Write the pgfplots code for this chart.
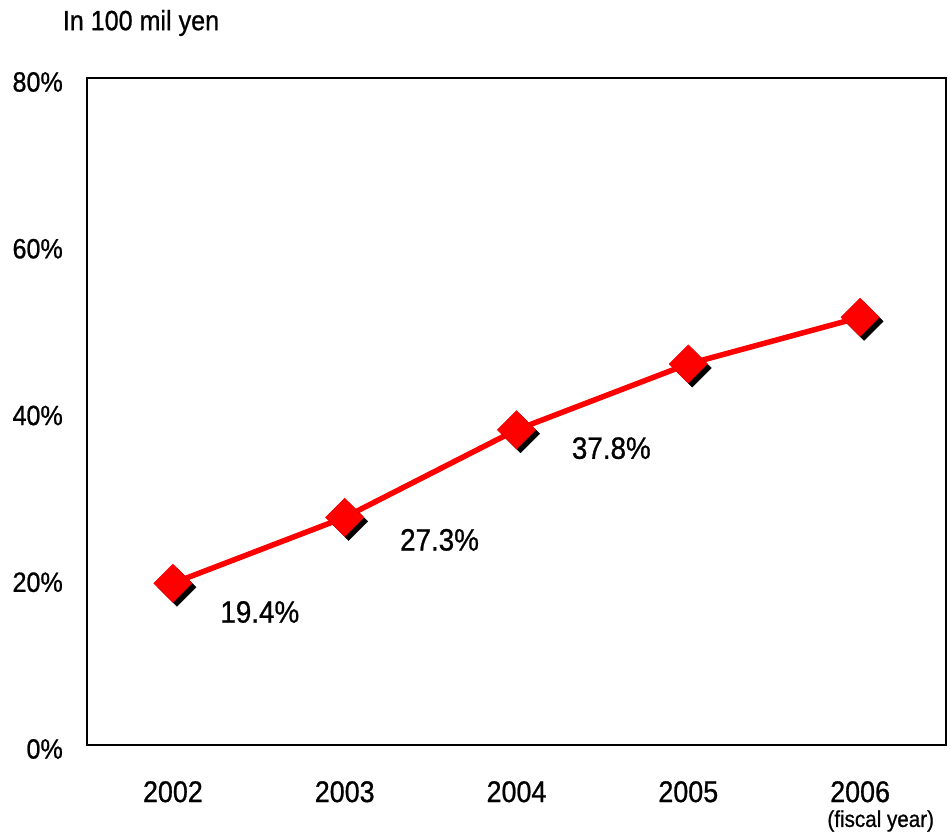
\documentclass[border=0pt]{standalone}
\usepackage{pgfplots}
\pgfplotsset{compat=1.18}
\usepackage{fontspec}
\setmainfont{Liberation Sans}[FakeStretch=0.9, FakeBold=0.8]
\begin{document}
\begin{tikzpicture}
\begin{axis}[
  width=859bp, height=667bp, scale only axis,
  xmin=-0.5, xmax=4.5, ymin=0, ymax=80,
  clip=false,
  axis line style={line width=1.6bp, black},
  xtick={0,1,2,3,4},
  xticklabels={2002,2003,2004,2005,2006},
  extra x ticks={0.5,1.5,2.5,3.5},
  extra x tick labels={},
  extra x tick style={major tick length=10bp, tick style={line width=1bp, black}, tick align=inside},
  ytick={0,20,40,60,80},
  yticklabels={0\%,20\%,40\%,60\%,80\%},
  major tick length=0pt,
  tick style={draw=none},
  xticklabel style={anchor=north, inner sep=0pt, yshift=-36bp, font=\fontsize{30}{32}\selectfont},
  yticklabel style={anchor=east, inner sep=0pt, xshift=-24bp, yshift=-4bp, font=\fontsize{28}{30}\selectfont},
]
\addplot[only marks, mark=square*, mark size=13.5bp, mark options={rotate=45, fill=black, draw=black}, xshift=4bp, yshift=-4bp]
  coordinates {(0,19.4) (1,27.3) (2,37.8) (3,45.7) (4,51.3)};
\addplot[red, line width=5.5bp, mark=square*, mark size=13.5bp, mark options={rotate=45, fill=red, draw=red, line width=0.5bp}]
  coordinates {(0,19.4) (1,27.3) (2,37.8) (3,45.7) (4,51.3)};
\node[font=\fontsize{31}{33}\selectfont] at (axis cs:0.506,15.95) {19.4\%};
\node[font=\fontsize{31}{33}\selectfont] at (axis cs:1.552,24.6) {27.3\%};
\node[font=\fontsize{31}{33}\selectfont] at (axis cs:2.552,35.6) {37.8\%};
\node[font=\fontsize{23}{25}\selectfont, inner sep=0pt] at ([yshift=-76bp]axis cs:4.12,0) {(fiscal year)};
\node[font=\fontsize{28}{30}\selectfont, inner sep=0pt] at ([xshift=54bp,yshift=55bp]rel axis cs:0,1) {In 100 mil yen};
\end{axis}
\path ([xshift=-87bp,yshift=-88bp]current axis.south west) rectangle ([xshift=5bp,yshift=78bp]current axis.north east);
\end{tikzpicture}
\end{document}
